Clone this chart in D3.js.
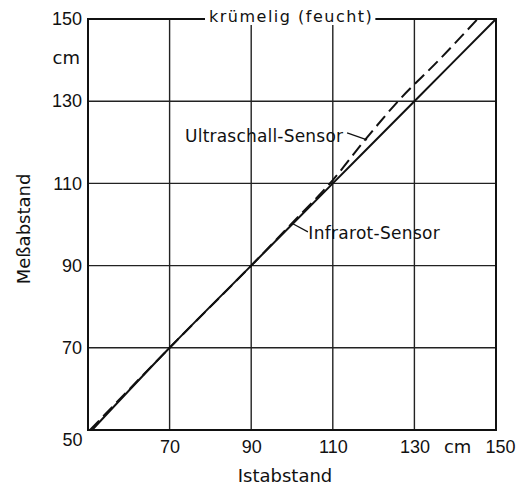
<!DOCTYPE html>
<html>
<head>
<meta charset="utf-8">
<script src="https://cdn.jsdelivr.net/npm/d3@7"></script>
<style>
  body { margin: 0; background: #fff; }
  text { fill: #111; }
</style>
</head>
<body>
<svg id="chart" width="522" height="490"></svg>
<script>
// data
var title = "krümelig (feucht)";
var xTicks = [50, 70, 90, 110, 130, 150];
var yTicks = [70, 90, 110, 130, 150];
var unit = "cm";

// Ultraschall-Sensor (dashed)
var ultraIst = [50.5, 70, 90, 100, 110, 118, 126, 136, 145.5];
var ultraMess = [50, 70, 90, 100.3, 110.8, 120.7, 130, 140, 150];
// Infrarot-Sensor (solid)
var infraIst = [51, 70, 90, 110, 130, 150];
var infraMess = [50, 70, 90, 110, 130, 150];

var numFont = "Liberation Sans, Arial, sans-serif",
    wordFont = "DejaVu Sans, sans-serif";

var svg = d3.select("#chart"),
    margin = {top: 19, right: 26, bottom: 60, left: 88},
    width = +svg.attr("width") - margin.left - margin.right,
    height = +svg.attr("height") - margin.top - margin.bottom,
    g = svg.append("g").attr("transform", "translate(" + margin.left + "," + margin.top + ")");

var x = d3.scaleLinear().domain([50, 150]).range([0, width]);
var y = d3.scaleLinear().domain([50, 150]).range([height, 0]);

// grid
g.selectAll(".vgrid")
  .data(xTicks.slice(1, -1))
  .enter().append("line")
    .attr("x1", function(d){ return x(d); })
    .attr("x2", function(d){ return x(d); })
    .attr("y1", 0).attr("y2", height)
    .attr("stroke", "#222").attr("stroke-width", 1.4);

g.selectAll(".hgrid")
  .data(yTicks.slice(0, -1))
  .enter().append("line")
    .attr("y1", function(d){ return y(d); })
    .attr("y2", function(d){ return y(d); })
    .attr("x1", 0).attr("x2", width)
    .attr("stroke", "#222").attr("stroke-width", 1.4);

// frame
g.append("rect")
  .attr("width", width).attr("height", height)
  .attr("fill", "none").attr("stroke", "#111").attr("stroke-width", 2);

// lines
var line = d3.line()
    .x(function(d){ return x(d[0]); })
    .y(function(d){ return y(d[1]); })
    .curve(d3.curveMonotoneX);

g.append("path")
  .datum(d3.zip(infraIst, infraMess))
  .attr("fill", "none").attr("stroke", "#111").attr("stroke-width", 2)
  .attr("d", line);

g.append("path")
  .datum(d3.zip(ultraIst, ultraMess))
  .attr("fill", "none").attr("stroke", "#111").attr("stroke-width", 2)
  .attr("stroke-dasharray", "13,6")
  .attr("d", line);

// title sits on the top frame line, white gap behind it
var titleBg = g.append("rect").attr("fill", "#fff");
var t = g.append("text")
  .attr("x", x(99.8)).attr("y", 3)
  .attr("text-anchor", "middle")
  .style("font-family", wordFont)
  .style("font-size", "16px").style("letter-spacing", "1.5px")
  .text(title);
var bb = t.node().getBBox();
titleBg.attr("x", bb.x - 4).attr("y", -6).attr("width", bb.width + 6).attr("height", 12);

// x axis labels
var xAxis = d3.axisBottom(x).tickValues(xTicks).tickSize(0).tickPadding(10);
var gx = g.append("g")
  .attr("transform", "translate(0," + height + ")")
  .call(xAxis);
gx.select(".domain").remove();
gx.selectAll("text").attr("fill", "#111")
  .style("font-family", numFont).style("font-size", "18px");
gx.selectAll(".tick").filter(function(d){ return d === 50; })
  .select("text").attr("dx", "-16").attr("dy", "0.35em");
gx.selectAll(".tick").filter(function(d){ return d === 150; })
  .select("text").attr("dx", "4");
gx.append("text")
  .attr("x", x(140.6)).attr("y", 10).attr("dy", "0.71em")
  .attr("text-anchor", "middle").attr("fill", "#111")
  .style("font-family", wordFont).style("font-size", "18px")
  .text(unit);

// y axis labels
var yAxis = d3.axisLeft(y).tickValues(yTicks).tickSize(0).tickPadding(6);
var gy = g.append("g").call(yAxis);
gy.select(".domain").remove();
gy.selectAll("text").attr("fill", "#111")
  .style("font-family", numFont).style("font-size", "18px");
gy.append("text")
  .attr("x", -8).attr("y", y(140.5)).attr("dy", "0.32em")
  .attr("text-anchor", "end").attr("fill", "#111")
  .style("font-family", wordFont).style("font-size", "18px")
  .text(unit);

// axis titles
svg.append("text")
  .attr("x", 285).attr("y", 482)
  .attr("text-anchor", "middle")
  .style("font-family", wordFont).style("font-size", "18px")
  .text("Istabstand");

svg.append("text")
  .attr("transform", "translate(30,229) rotate(-90)")
  .attr("text-anchor", "middle")
  .style("font-family", wordFont).style("font-size", "18px")
  .text("Meßabstand");

// curve labels with leader lines
g.append("text")
  .attr("x", x(73.8)).attr("y", 123)
  .style("font-family", wordFont)
  .style("font-size", "17px").style("letter-spacing", "0.2px")
  .text("Ultraschall-Sensor");
g.append("line")
  .attr("x1", x(113.5)).attr("y1", y(122.3))
  .attr("x2", x(118.4)).attr("y2", y(120.6))
  .attr("stroke", "#111").attr("stroke-width", 1.2);

g.append("text")
  .attr("x", x(104)).attr("y", 220)
  .style("font-family", wordFont)
  .style("font-size", "17px").style("letter-spacing", "0.3px")
  .text("Infrarot-Sensor");
g.append("line")
  .attr("x1", x(103.9)).attr("y1", y(98.2))
  .attr("x2", x(100.2)).attr("y2", y(100.2))
  .attr("stroke", "#111").attr("stroke-width", 1.2);
</script>
</body>
</html>
